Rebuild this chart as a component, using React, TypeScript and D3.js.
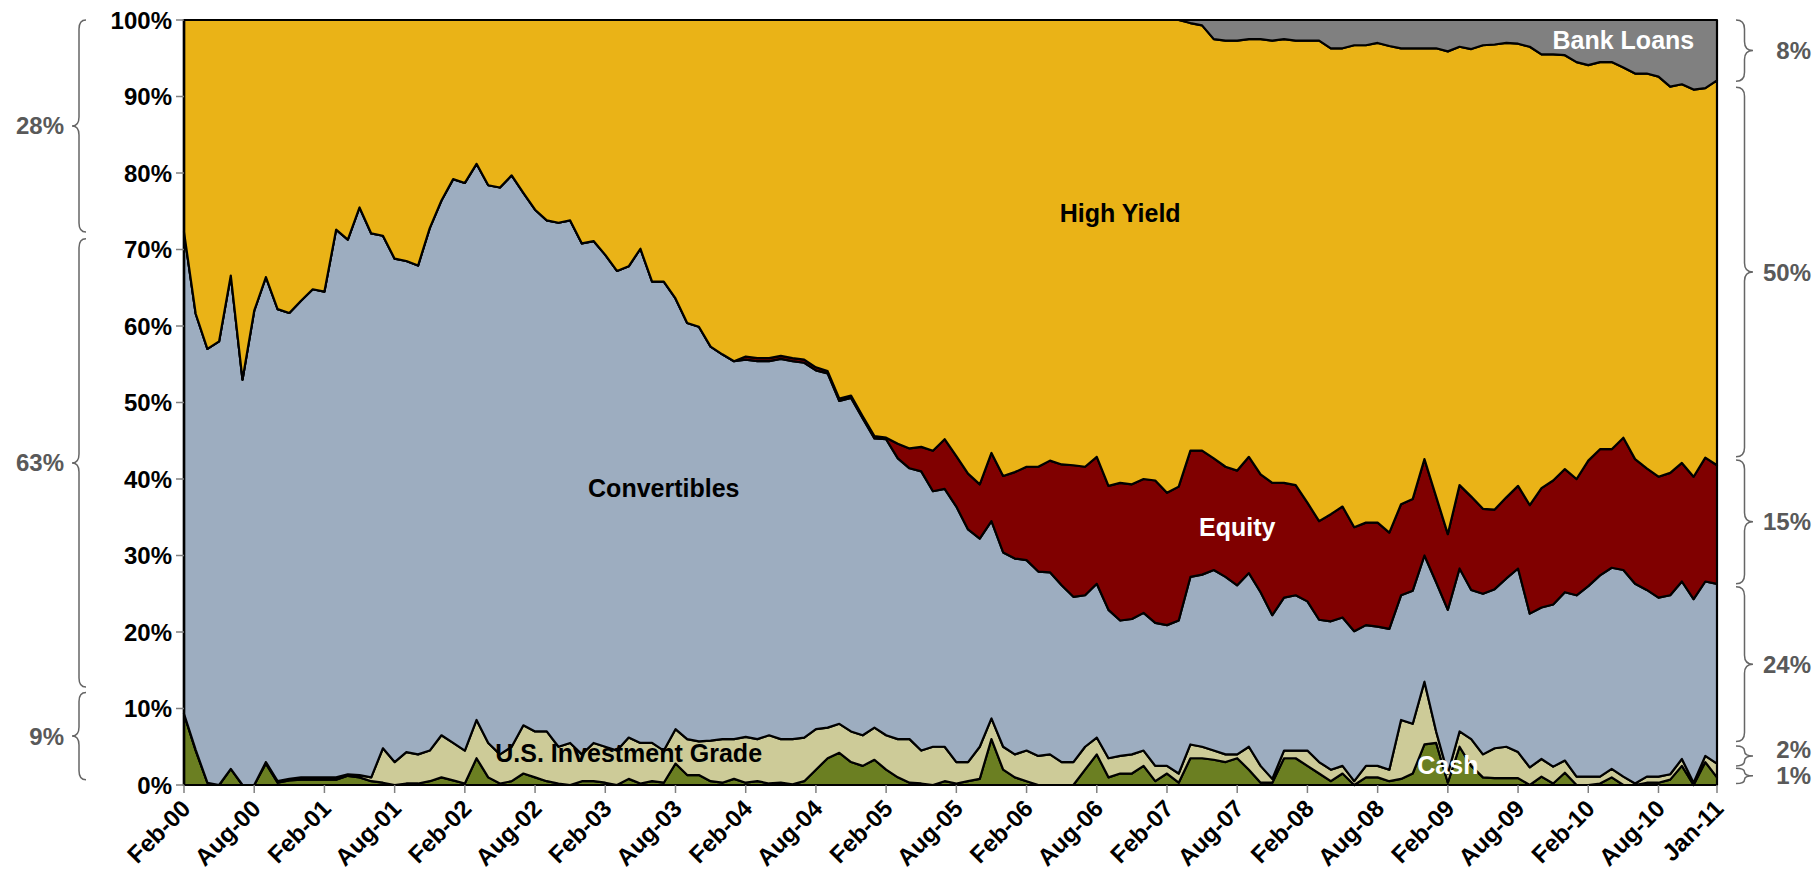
import React from "react";
import * as d3 from "d3";

// ---------- DATA ----------
const months = d3.timeMonth.range(new Date(2000, 1, 1), new Date(2011, 1, 1)); // Feb-00 .. Jan-11
const categories = months.map(d3.timeFormat("%b-%y"));

const tickLabels = ["Feb-00","Aug-00","Feb-01","Aug-01","Feb-02","Aug-02","Feb-03","Aug-03","Feb-04","Aug-04","Feb-05","Aug-05","Feb-06","Aug-06","Feb-07","Aug-07","Feb-08","Aug-08","Feb-09","Aug-09","Feb-10","Aug-10","Jan-11"];
const yTicks = [0, 10, 20, 30, 40, 50, 60, 70, 80, 90, 100];

const cash = [
  9.3, 4.5, 0.3, 0, 2.1, 0, 0, 2.8, 0.3, 0.6,
  0.7, 0.7, 0.7, 0.7, 1.2, 1.0, 0.5, 0.3, 0, 0.2,
  0.2, 0.5, 1.0, 0.6, 0.2, 3.5, 1.0, 0.2, 0.5, 1.5,
  1.0, 0.5, 0.2, 0, 0.5, 0.5, 0.3, 0, 0.8, 0.2,
  0.5, 0.3, 2.8, 1.3, 1.3, 0.5, 0.3, 0.8, 0.3, 0.5,
  0.2, 0.3, 0.1, 0.5, 2.0, 3.5, 4.2, 3.0, 2.5, 3.3,
  2.0, 1.0, 0.3, 0.2, 0, 0.5, 0.2, 0.5, 0.8, 6.0,
  2.0, 1.0, 0.5, 0, 0, 0, 0, 2.0, 4.0, 1.0,
  1.5, 1.5, 2.5, 0.5, 1.5, 0.3, 3.5, 3.5, 3.3, 3.0,
  3.5, 2.0, 0.3, 0.3, 3.5, 3.5, 2.5, 1.5, 0.5, 1.5,
  0, 1.0, 1.0, 0.5, 0.8, 1.5, 5.3, 5.5, 0.3, 5.0,
  2.5, 1.0, 0.9, 0.9, 0.9, 0, 1.1, 0.2, 1.6, 0,
  0, 0.2, 1.0, 0, 0, 0.3, 0.3, 0.7, 2.5, 0,
  3.0, 1.0,
];

const usInvestmentGrade = [
  0, 0.1, 0, 0, 0, 0, 0, 0.2, 0.2, 0.2,
  0.3, 0.3, 0.3, 0.3, 0.2, 0.3, 0.5, 4.5, 3.0, 4.1,
  3.8, 4.0, 5.5, 4.9, 4.3, 5.0, 4.5, 3.8, 4.5, 6.3,
  6.0, 6.5, 4.8, 5.5, 3.5, 5.0, 4.7, 4.5, 5.4, 5.3,
  5.0, 4.2, 4.5, 4.7, 4.4, 5.3, 5.7, 5.2, 6.0, 5.5,
  6.3, 5.7, 5.9, 5.7, 5.3, 4.0, 3.8, 4.0, 4.0, 4.2,
  4.5, 5.0, 5.7, 4.3, 5.0, 4.5, 2.8, 2.5, 4.2, 2.7,
  3.0, 3.0, 4.0, 3.8, 4.0, 3.0, 3.0, 3.0, 2.2, 2.5,
  2.3, 2.5, 2.0, 2.0, 1.0, 1.2, 1.8, 1.5, 1.2, 1.0,
  0.5, 3.0, 2.2, 0.5, 1.0, 1.0, 2.0, 1.5, 1.5, 1.0,
  0.5, 1.5, 1.5, 1.5, 7.7, 6.5, 8.2, 1.5, 1.2, 2.0,
  3.5, 3.0, 3.9, 4.1, 3.4, 2.3, 2.3, 2.2, 1.6, 1.1,
  1.1, 0.9, 1.1, 1.1, 0.2, 0.8, 0.8, 0.7, 0.9, 0.3,
  0.8, 1.8,
];

const convertibles = [
  63.0, 57.0, 56.7, 58.0, 64.5, 53.0, 62.0, 63.4, 61.7, 60.9,
  62.3, 63.8, 63.5, 71.6, 69.9, 74.2, 71.1, 67.0, 65.8, 64.2,
  63.9, 68.3, 69.9, 73.7, 74.2, 72.7, 72.9, 74.1, 74.7, 69.6,
  68.2, 66.8, 68.5, 68.3, 66.8, 65.6, 64.3, 62.7, 61.6, 64.6,
  60.3, 61.3, 56.3, 54.4, 54.2, 51.5, 50.3, 49.4, 49.3, 49.4,
  48.9, 49.7, 49.4, 49.0, 46.9, 46.3, 42.2, 43.6, 41.4, 37.8,
  38.7, 36.7, 35.4, 36.5, 33.4, 33.7, 33.4, 30.4, 27.2, 25.8,
  25.4, 25.6, 24.9, 24.1, 23.8, 23.1, 21.6, 19.8, 20.1, 19.4,
  17.7, 17.7, 18.0, 18.7, 18.4, 20.0, 21.9, 22.5, 23.6, 23.2,
  22.1, 22.7, 22.7, 21.4, 20.0, 20.3, 19.5, 18.6, 19.4, 19.4,
  19.6, 18.4, 18.2, 18.4, 16.3, 17.4, 16.5, 19.5, 21.4, 21.3,
  19.5, 21.0, 20.8, 22.0, 24.0, 20.1, 19.8, 21.2, 22.0, 23.7,
  24.9, 26.3, 26.3, 27.0, 26.1, 24.4, 23.4, 23.4, 23.2, 24.0,
  22.8, 23.5,
];

const equity = [
  0, 0, 0, 0, 0, 0, 0, 0, 0, 0,
  0, 0, 0, 0, 0, 0, 0, 0, 0, 0,
  0, 0, 0, 0, 0, 0, 0, 0, 0, 0,
  0, 0, 0, 0, 0, 0, 0, 0, 0, 0,
  0, 0, 0, 0, 0, 0, 0, 0, 0.4, 0.4,
  0.4, 0.4, 0.4, 0.4, 0.4, 0.3, 0.3, 0.3, 0.3, 0.3,
  0.2, 1.9, 2.6, 3.2, 5.3, 6.5, 6.6, 7.3, 7.1, 8.9,
  10.0, 11.3, 12.2, 13.7, 14.6, 15.8, 17.2, 16.8, 16.6, 16.2,
  18.0, 17.6, 17.5, 18.6, 17.3, 17.5, 16.5, 16.2, 14.6, 14.4,
  15.0, 15.2, 15.4, 17.3, 15.0, 14.4, 12.9, 12.9, 14.0, 14.5,
  13.6, 13.4, 13.6, 12.6, 11.9, 12.0, 12.6, 11.2, 9.9, 10.9,
  12.2, 11.1, 10.4, 10.6, 10.8, 14.2, 15.6, 16.2, 16.1, 15.2,
  16.4, 16.5, 15.5, 17.3, 16.3, 15.9, 15.8, 16.0, 15.5, 16.0,
  16.2, 15.5,
];

const highYield = [
  27.7, 38.4, 43.0, 42.0, 33.4, 47.0, 38.0, 33.6, 37.8, 38.3,
  36.7, 35.2, 35.5, 27.4, 28.7, 24.5, 27.9, 28.2, 31.2, 31.5,
  32.1, 27.2, 23.6, 20.8, 21.3, 18.8, 21.6, 21.9, 20.3, 22.6,
  24.8, 26.2, 26.5, 26.2, 29.2, 28.9, 30.7, 32.8, 32.2, 29.9,
  34.2, 34.2, 36.4, 39.6, 40.1, 42.7, 43.7, 44.6, 44.0, 44.2,
  44.2, 43.9, 44.2, 44.4, 45.4, 45.9, 49.5, 49.1, 51.8, 54.4,
  54.6, 55.4, 56.0, 55.8, 56.3, 54.8, 57.0, 59.3, 60.7, 56.6,
  59.6, 59.1, 58.4, 58.4, 57.6, 58.1, 58.2, 58.4, 57.1, 60.9,
  60.5, 60.7, 60.0, 60.2, 61.8, 61.0, 55.9, 55.6, 54.8, 55.7,
  56.2, 54.6, 56.9, 57.8, 58.0, 58.1, 60.4, 62.8, 60.9, 59.9,
  63.0, 62.4, 62.7, 63.6, 59.6, 58.9, 53.7, 58.6, 63.1, 57.3,
  58.5, 60.6, 60.8, 59.4, 57.8, 59.9, 56.7, 55.7, 54.1, 54.5,
  51.7, 50.6, 50.6, 48.4, 50.4, 51.6, 52.3, 50.5, 49.5, 50.6,
  48.3, 50.3,
];

const bankLoans = [
  0, 0, 0, 0, 0, 0, 0, 0, 0, 0,
  0, 0, 0, 0, 0, 0, 0, 0, 0, 0,
  0, 0, 0, 0, 0, 0, 0, 0, 0, 0,
  0, 0, 0, 0, 0, 0, 0, 0, 0, 0,
  0, 0, 0, 0, 0, 0, 0, 0, 0, 0,
  0, 0, 0, 0, 0, 0, 0, 0, 0, 0,
  0, 0, 0, 0, 0, 0, 0, 0, 0, 0,
  0, 0, 0, 0, 0, 0, 0, 0, 0, 0,
  0, 0, 0, 0, 0, 0, 0.4, 0.7, 2.5, 2.7,
  2.7, 2.5, 2.5, 2.7, 2.5, 2.7, 2.7, 2.7, 3.7, 3.7,
  3.3, 3.3, 3.0, 3.4, 3.7, 3.7, 3.7, 3.7, 4.1, 3.5,
  3.8, 3.3, 3.2, 3.0, 3.1, 3.5, 4.5, 4.5, 4.6, 5.5,
  5.9, 5.5, 5.5, 6.2, 7.0, 7.0, 7.4, 8.7, 8.4, 9.1,
  8.9, 7.9,
];

const seriesNames = ["Cash", "U.S. Investment Grade", "Convertibles", "Equity", "High Yield", "Bank Loans"];
const seriesValues = [cash, usInvestmentGrade, convertibles, equity, highYield, bankLoans];
const seriesColors = ["#6B7F22", "#CDCB98", "#9DADC0", "#800000", "#EAB317", "#808080"];

// Region labels: series name, category it is centred on, percent level, text colour
const regionLabels = [
  { name: "High Yield", at: "Oct-06", pct: 74.8, color: "#000" },
  { name: "Convertibles", at: "Jul-03", pct: 38.8, color: "#000" },
  { name: "Equity", at: "Aug-07", pct: 33.7, color: "#fff" },
  { name: "Bank Loans", at: "May-10", pct: 97.4, color: "#fff" },
  { name: "U.S. Investment Grade", at: "Apr-03", pct: 4.2, color: "#000" },
  { name: "Cash", at: "Feb-09", pct: 2.6, color: "#fff" },
];

// Bracket annotations: share of first (left) and last (right) month
const leftBraces = [
  { label: "28%", from: 100, to: 72.3 },
  { label: "63%", from: 71.4, to: 12.8 },
  { label: "9%", from: 12.1, to: 0.7 },
];
const rightBraces = [
  { label: "8%", from: 100, to: 92.0 },
  { label: "50%", from: 91.2, to: 42.9 },
  { label: "15%", from: 42.5, to: 26.3 },
  { label: "24%", from: 25.9, to: 5.7 },
  { label: "2%", from: 5.1, to: 2.5, at: 4.6 },
  { label: "1%", from: 2.2, to: 0.2, at: 1.3 },
];

// ---------- CHART ----------
const W = 1818;
const H = 880;
const M = { left: 184, right: 1717, top: 20, bottom: 785 };
const FONT = "'Liberation Sans', Arial, Helvetica, sans-serif";

function bracePath(xEnd: number, xTip: number, y1: number, y2: number, ym: number) {
  const xMid = (xEnd + xTip) / 2;
  const r = Math.min(9, (y2 - y1) / 4);
  return `M${xEnd},${y1} Q${xMid},${y1} ${xMid},${y1 + r} L${xMid},${ym - r} Q${xMid},${ym} ${xTip},${ym} Q${xMid},${ym} ${xMid},${ym + r} L${xMid},${y2 - r} Q${xMid},${y2} ${xEnd},${y2}`;
}

export default function App() {
  const rows = categories.map((c, i) => {
    const r: Record<string, number | string> = { cat: c };
    seriesNames.forEach((n, k) => (r[n] = seriesValues[k][i]));
    return r;
  });

  const stack = d3
    .stack<Record<string, any>>()
    .keys(seriesNames)
    .offset(d3.stackOffsetExpand);
  const layers = stack(rows);

  const x = d3.scaleLinear().domain([0, categories.length - 1]).range([M.left, M.right]);
  const y = d3.scaleLinear().domain([0, 1]).range([M.bottom, M.top]);
  const yp = (p: number) => y(p / 100);

  const area = d3
    .area<any>()
    .x((_d: any, i: number) => x(i))
    .y0((d: any) => y(d[0]))
    .y1((d: any) => y(d[1]));

  const idx = (c: string) => categories.indexOf(c);

  return (
    <svg
      width={W}
      height={H}
      style={{ position: "absolute", left: 0, top: 0, background: "#fff" }}
      fontFamily={FONT}
    >
      <rect x={0} y={0} width={W} height={H} fill="#fff" />
      {layers.map((layer, k) => (
        <path
          key={seriesNames[k]}
          d={area(layer as any) || ""}
          fill={seriesColors[k]}
          stroke="#000"
          strokeWidth={2.2}
          strokeLinejoin="round"
        />
      ))}

      {/* axes */}
      <line x1={M.left} x2={M.left} y1={M.top - 1} y2={M.bottom + 1} stroke="#000" strokeWidth={2.5} />
      <line x1={M.left} x2={M.right} y1={M.top} y2={M.top} stroke="#000" strokeWidth={2} />
      {yTicks.map((t) => (
        <g key={t}>
          <line x1={M.left - 8} x2={M.left} y1={yp(t)} y2={yp(t)} stroke="#808080" strokeWidth={1.5} />
          <text
            x={M.left - 12}
            y={yp(t)}
            textAnchor="end"
            dominantBaseline="central"
            fontSize={24}
            fontWeight="bold"
            fill="#000"
          >
            {t}%
          </text>
        </g>
      ))}
      {tickLabels.map((lab) => {
        const xi = x(idx(lab));
        return (
          <g key={lab}>
            <line x1={xi} x2={xi} y1={M.bottom} y2={M.bottom + 8} stroke="#808080" strokeWidth={1.5} />
            <text
              transform={`translate(${xi + 8},${M.bottom + 25}) rotate(-45)`}
              textAnchor="end"
              fontSize={24}
              fontWeight="bold"
              fill="#000"
            >
              {lab}
            </text>
          </g>
        );
      })}

      {/* region labels */}
      {regionLabels.map((r) => (
        <text
          key={r.name}
          x={x(idx(r.at))}
          y={yp(r.pct)}
          textAnchor="middle"
          dominantBaseline="central"
          fontSize={25}
          fontWeight="bold"
          fill={r.color}
        >
          {r.name}
        </text>
      ))}

      {/* left braces */}
      {leftBraces.map((b) => {
        const y1 = yp(b.from);
        const y2 = yp(b.to);
        const ym = (y1 + y2) / 2;
        return (
          <g key={b.label}>
            <path d={bracePath(86, 72, y1, y2, ym)} fill="none" stroke="#666" strokeWidth={1.5} />
            <text x={64} y={ym} textAnchor="end" dominantBaseline="central" fontSize={24} fontWeight="bold" fill="#595959">
              {b.label}
            </text>
          </g>
        );
      })}

      {/* right braces */}
      {rightBraces.map((b) => {
        const y1 = yp(b.from);
        const y2 = yp(b.to);
        const ym = (y1 + y2) / 2;
        const ly = b.at !== undefined ? yp(b.at) : ym;
        return (
          <g key={b.label}>
            <path d={bracePath(1736, 1753, y1, y2, ym)} fill="none" stroke="#666" strokeWidth={1.5} />
            <text x={1811} y={ly} textAnchor="end" dominantBaseline="central" fontSize={24} fontWeight="bold" fill="#595959">
              {b.label}
            </text>
          </g>
        );
      })}
    </svg>
  );
}
